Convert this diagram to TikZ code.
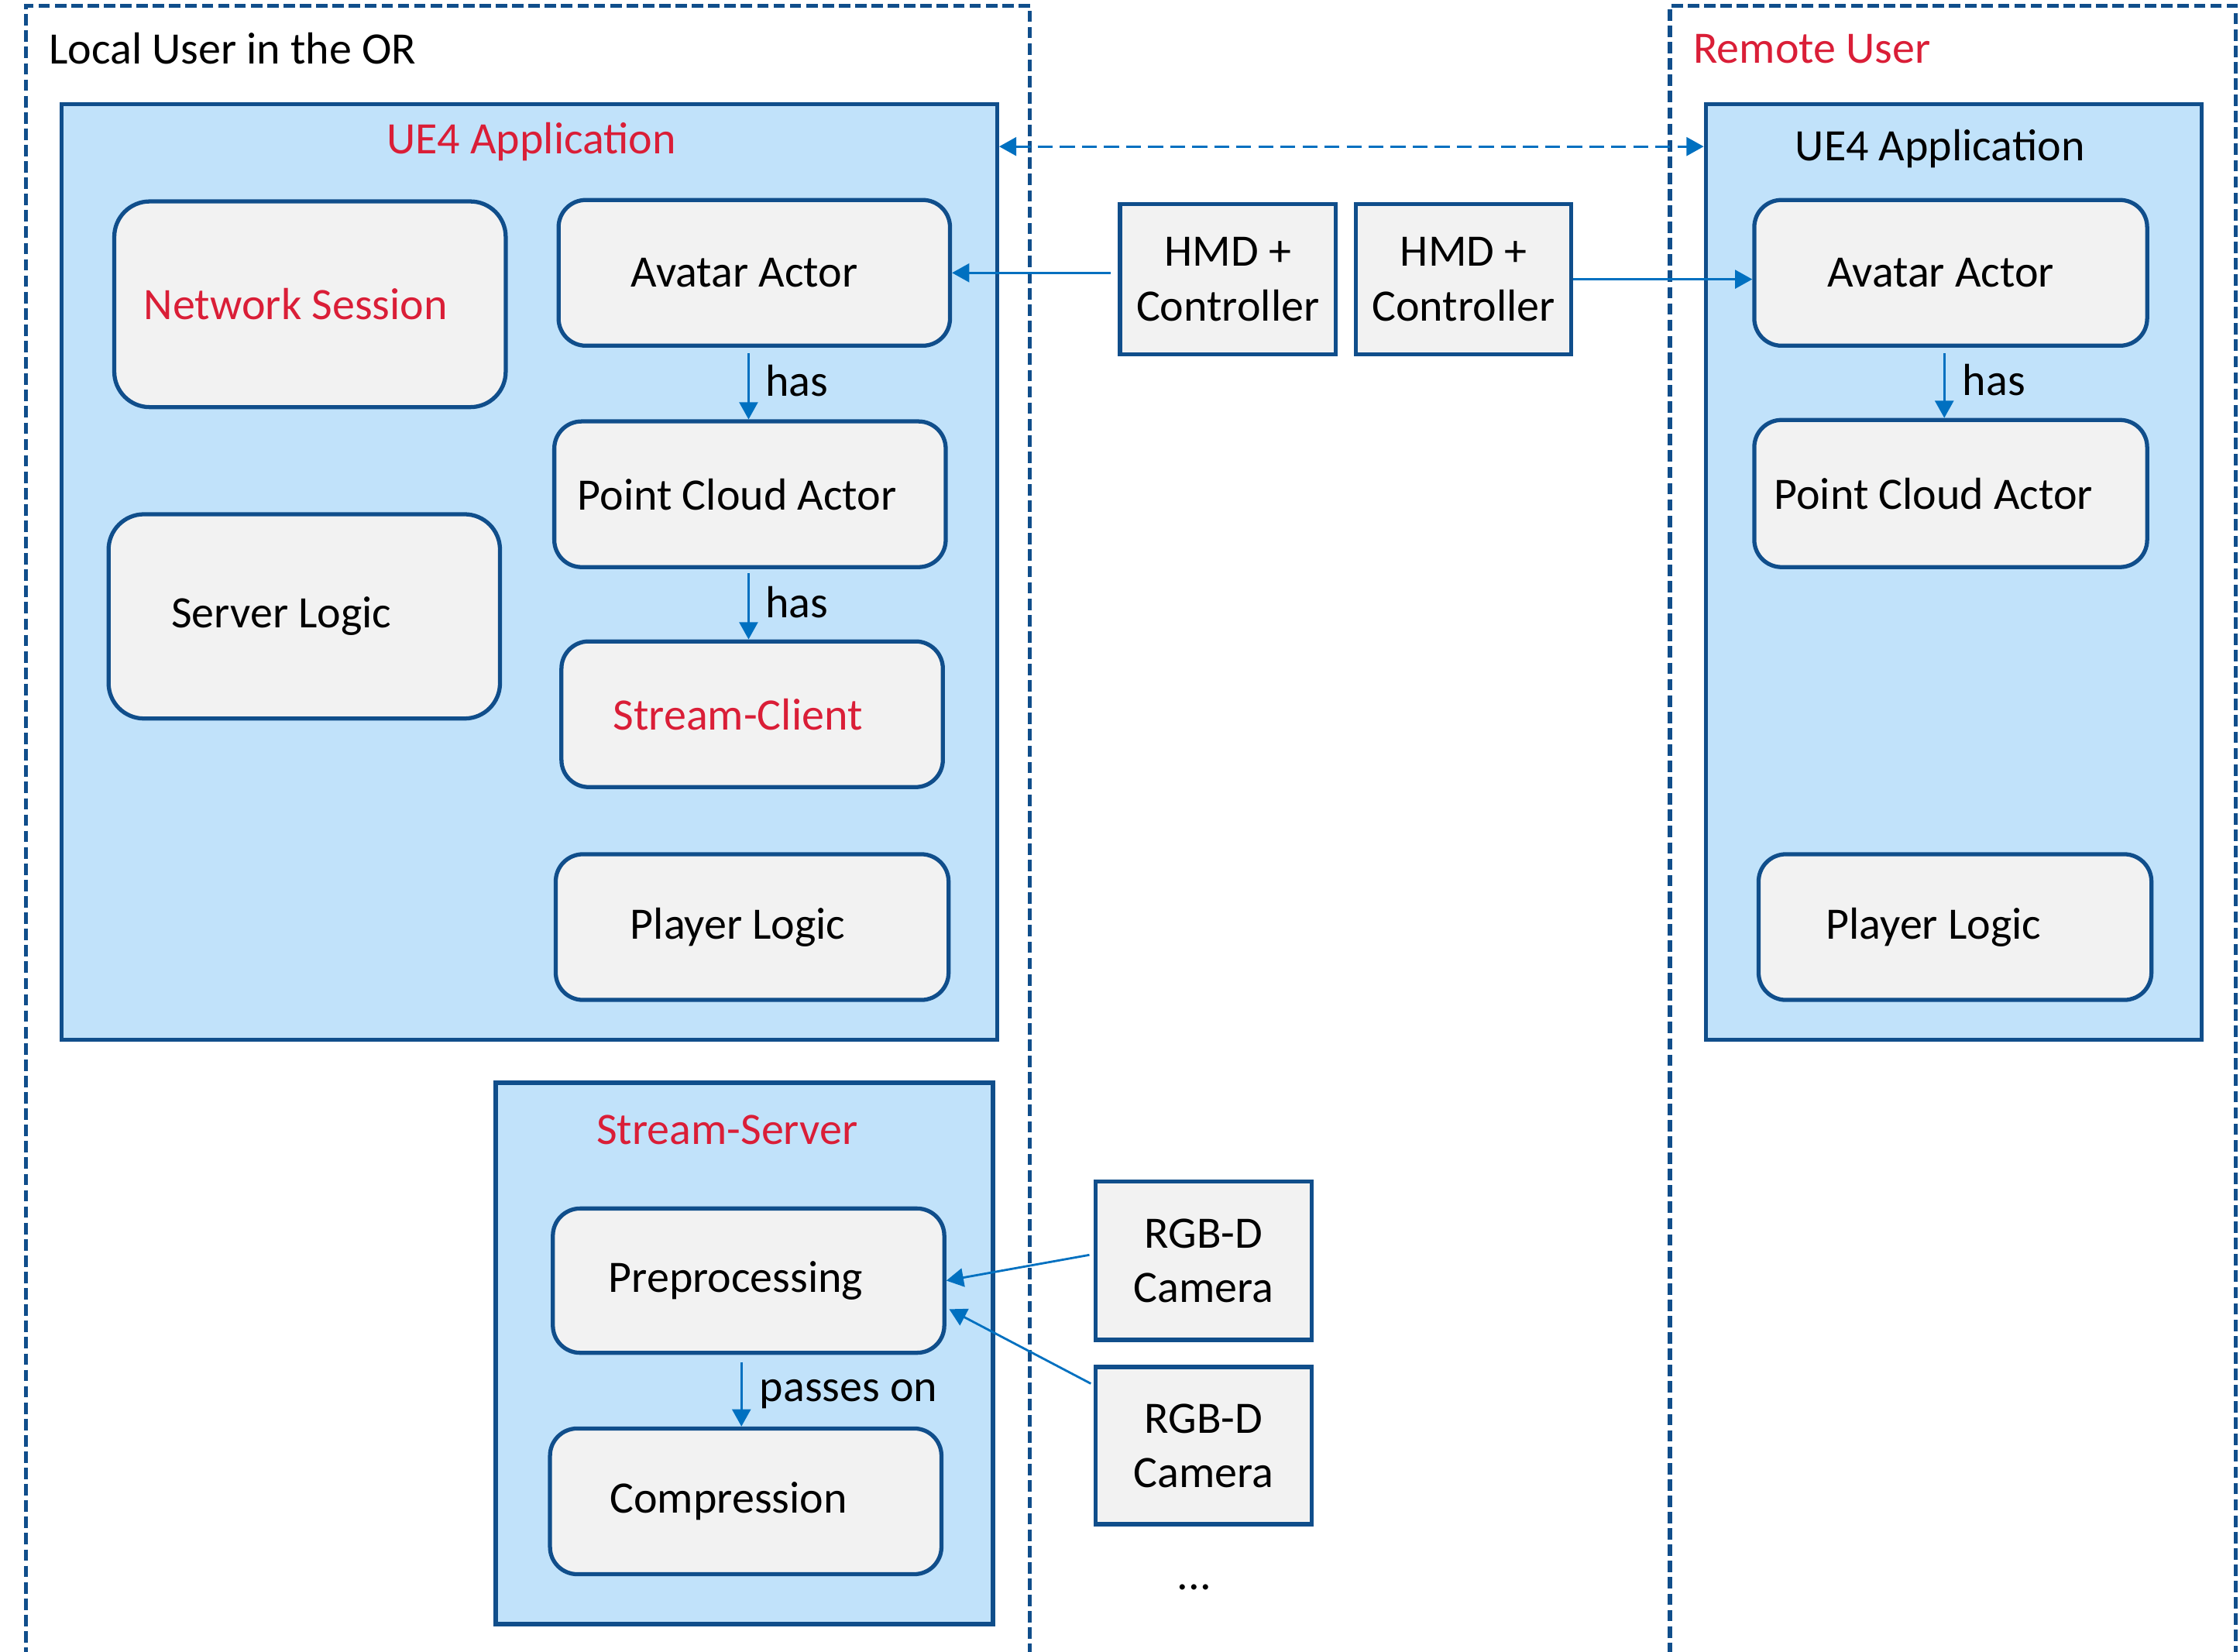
\documentclass[tikz,border=0pt]{standalone}
\usepackage{fontspec}
\setmainfont{Carlito}
\usetikzlibrary{arrows.meta}
\newdimen\pxu \pxu=0.52478pt
\definecolor{bdr}{RGB}{16,78,139}
\definecolor{appfill}{RGB}{193,226,250}
\definecolor{boxfill}{RGB}{242,242,242}
\definecolor{arrc}{RGB}{0,112,192}
\definecolor{redt}{RGB}{218,30,55}
\begin{document}
\begin{tikzpicture}[x=0.52478pt, y=-0.52478pt,
  every node/.style={font=\fontsize{16.5}{20}\selectfont},
  sz/.style 2 args={minimum width=#1*\pxu, minimum height=#2*\pxu},
  tl/.style={execute at end node={\hspace*{#1\pxu}}},
  outer/.style={draw=bdr, line width=1.5pt, dash pattern=on 4.2pt off 1.8pt, inner sep=0pt},
  app/.style={draw=bdr, fill=appfill, line width=1.5pt, inner sep=0pt},
  rbox/.style={draw=bdr, fill=boxfill, line width=1.5pt, rounded corners=10pt, inner sep=0pt},
  sbox/.style={draw=bdr, fill=boxfill, line width=1.5pt, inner sep=0pt, align=center},
  arr/.style={draw=arrc, line width=0.8pt, -{Triangle[length=6.3pt,width=6.8pt]}},
  darr/.style={draw=arrc, line width=0.8pt, dash pattern=on 5.5pt off 2.6pt, {Triangle[length=6.3pt,width=6.8pt]}-{Triangle[length=6.3pt,width=6.8pt]}},
  lbl/.style={anchor=west, inner sep=0pt}
]
\useasboundingbox (0,0) rectangle (1568,1156);
\fill[white] (0,0) rectangle (1568,1156);

% outer dashed containers
\node[outer, sz={703}{1172}] (local) at (369.5,590) {};
\node[outer, sz={396}{1172}] (remote) at (1367,590) {};
\node[lbl] (localt) at (34,34) {Local User in the OR};
\node[lbl, text=redt] (remotet) at (1185,34) {Remote User};

% application boxes
\node[app, sz={655}{655}] (ue4L) at (370.5,400.5) {};
\node[app, sz={347}{655}] (ue4R) at (1367.5,400.5) {};
\node[app, sz={348}{379}] (ssrv) at (521,947.5) {};
\node[text=redt] (ue4Lt) at (372,99) {UE4 Application};
\node (ue4Rt) at (1358,104) {UE4 Application};
\node[text=redt] (ssrvt) at (509,791) {Stream-Server};

% local components
\node[rbox, sz={274}{144}, rounded corners=13pt, text=redt, tl=20] (netsess) at (217,213) {Network Session};
\node[rbox, sz={274}{143}, rounded corners=13pt, tl=32] (srvlogic) at (213,431.5) {Server Logic};
\node[rbox, sz={274}{102}, tl=14] (avL) at (528,191) {Avatar Actor};
\node[rbox, sz={274}{102}, tl=18] (pcL) at (525,346) {Point Cloud Actor};
\node[rbox, sz={267}{102}, text=redt, tl=20] (scL) at (526.5,500) {Stream-Client};
\node[rbox, sz={275}{102}, tl=20] (plL) at (526.5,649) {Player Logic};
\node[rbox, sz={274}{101}, tl=18] (prep) at (524,896.5) {Preprocessing};
\node[rbox, sz={274}{102}, tl=24] (comp) at (522,1051) {Compression};

% remote components
\node[rbox, sz={275}{102}, tl=14] (avR) at (1365.5,191) {Avatar Actor};
\node[rbox, sz={275}{103}, tl=24] (pcR) at (1365.5,345.5) {Point Cloud Actor};
\node[rbox, sz={275}{102}, tl=30] (plR) at (1368.5,649) {Player Logic};

% devices
\node[sbox, sz={151}{105}] (hmd1) at (859.5,195.5) {HMD +\\Controller};
\node[sbox, sz={151}{105}] (hmd2) at (1024.5,195.5) {HMD +\\Controller};
\node[sbox, sz={151}{111}] (cam1) at (842.5,882.5) {RGB-D\\ Camera};
\node[sbox, sz={151}{110}] (cam2) at (842.5,1012) {RGB-D\\ Camera};
\node (dots) at (836,1111) {...};

% connectors
\draw[darr] ([yshift=-31\pxu]ue4L.north east) -- ([yshift=-31\pxu]ue4R.north west);
\draw[arr] ([xshift=-5\pxu]hmd1.west |- avL.east) -- (avL.east);
\draw[arr] (hmd2.east) -- (avR.west |- hmd2.east);
\draw[arr] ([xshift=-4\pxu,yshift=-4\pxu]avL.south) -- node[lbl, xshift=11\pxu, yshift=4\pxu] (has1) {has} ([xshift=-1\pxu]pcL.north);
\draw[arr] ([xshift=-1\pxu,yshift=-3\pxu]pcL.south) -- node[lbl, xshift=11\pxu, yshift=3\pxu] (has2) {has} ([xshift=-2.5\pxu]scL.north);
\draw[arr] ([xshift=-4.5\pxu,yshift=-4\pxu]avR.south) -- node[lbl, xshift=12\pxu, yshift=4\pxu] (has3) {has} ([xshift=-4.5\pxu]pcR.north);
\draw[arr] ([xshift=-5\pxu,yshift=-5\pxu]prep.south) -- node[lbl, xshift=12\pxu] (pass) {passes on} ([xshift=-3\pxu]comp.north);
\draw[arr] ([xshift=-3\pxu,yshift=4\pxu]cam1.west) -- (prep.east);
\draw[arr] ([xshift=-2\pxu,yshift=-13\pxu]cam2.north west) -- ([xshift=2\pxu,yshift=-20\pxu]prep.east);
\end{tikzpicture}
\end{document}
